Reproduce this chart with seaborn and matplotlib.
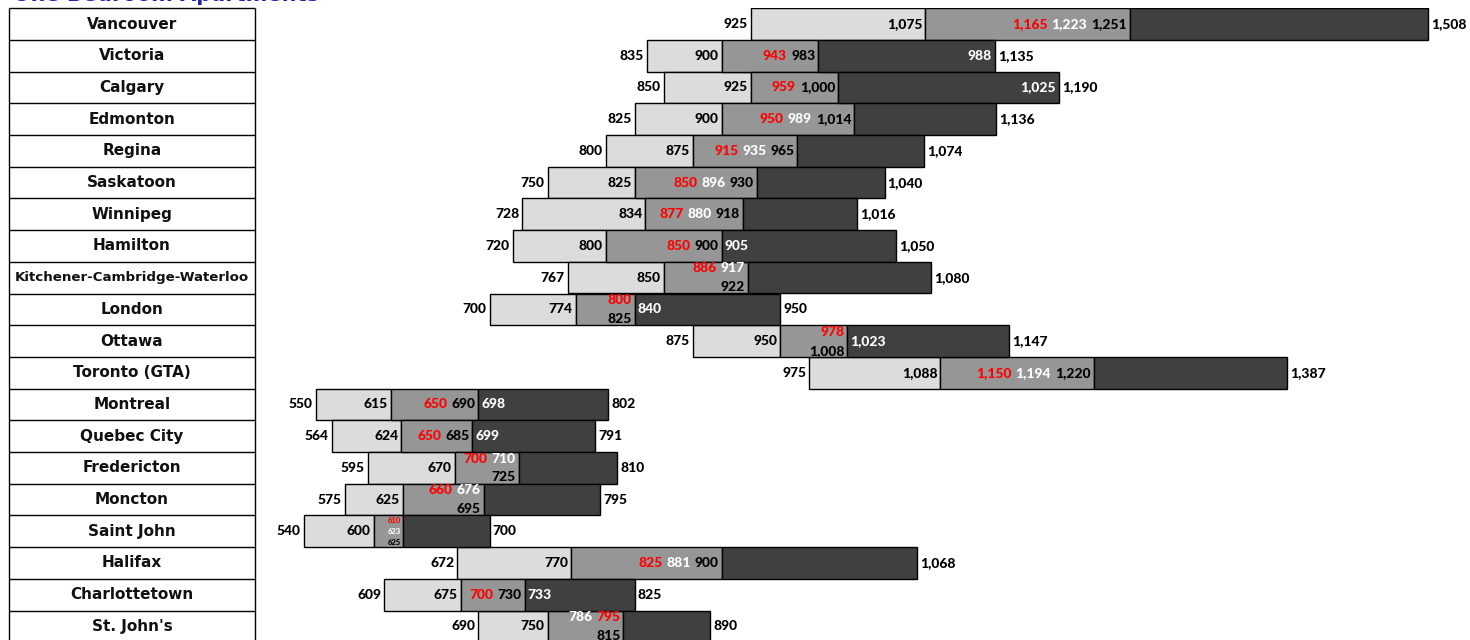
import numpy as np
import pandas as pd
import matplotlib
matplotlib.use("Agg")
import matplotlib.pyplot as plt
import seaborn as sns

# Monthly rent distribution for one bedroom apartments, by city
cities = ["Vancouver", "Victoria", "Calgary", "Edmonton", "Regina", "Saskatoon",
          "Winnipeg", "Hamilton", "Kitchener-Cambridge-Waterloo", "London", "Ottawa",
          "Toronto (GTA)", "Montreal", "Quebec City", "Fredericton", "Moncton",
          "Saint John", "Halifax", "Charlottetown", "St. John's"]
rent_min = [925, 835, 850, 825, 800, 750, 728, 720, 767, 700, 875, 975,
            550, 564, 595, 575, 540, 672, 609, 690]
rent_p25 = [1075, 900, 925, 900, 875, 825, 834, 800, 850, 774, 950, 1088,
            615, 624, 670, 625, 600, 770, 675, 750]
rent_median = [1165, 943, 959, 950, 915, 850, 877, 850, 886, 800, 978, 1150,
               650, 650, 700, 660, 610, 825, 700, 795]
rent_mean = [1223, 988, 1025, 989, 935, 896, 880, 905, 917, 840, 1023, 1194,
             698, 699, 710, 676, 623, 881, 733, 786]
rent_p75 = [1251, 983, 1000, 1014, 965, 930, 918, 900, 922, 825, 1008, 1220,
            690, 685, 725, 695, 625, 900, 730, 815]
rent_max = [1508, 1135, 1190, 1136, 1074, 1040, 1016, 1050, 1080, 950, 1147, 1387,
            802, 791, 810, 795, 700, 1068, 825, 890]

# how the median / mean / 75th percentile labels are arranged in each row
label_layout = {
    "Victoria": "mean_end", "Calgary": "mean_end",
    "Hamilton": "mean_after", "Montreal": "mean_after",
    "Quebec City": "mean_after", "Charlottetown": "mean_after",
    "Kitchener-Cambridge-Waterloo": "stack", "Fredericton": "stack",
    "Moncton": "stack", "St. John's": "stack",
    "London": "stack_mean_after", "Ottawa": "stack_mean_after",
    "Saint John": "tiny",
}

df = pd.DataFrame({"city": cities, "min": rent_min, "p25": rent_p25,
                   "median": rent_median, "mean": rent_mean,
                   "p75": rent_p75, "max": rent_max})

LIGHT, MID, DARK = "#dcdcdc", "#969696", "#404040"
NUM_FONT = "Lato"
NUM_WEIGHT = "black"
NUM_SIZE = 10

W, H = 1470, 640
fig = plt.figure(figsize=(W / 100, H / 100), dpi=100)
fig.patch.set_facecolor("white")

row_top_px, row_h_px = 8.2, 31.7
n = len(cities)
ax_top = 1 - row_top_px / H
ax_h = n * row_h_px / H
ax_bottom = ax_top - ax_h

# ---- bars -------------------------------------------------------------
x0_px = 257.5
ax = fig.add_axes([x0_px / W, ax_bottom, (W - x0_px) / W, ax_h])
bar_kw = dict(y="city", orient="h", width=1.0, errorbar=None,
              edgecolor="black", linewidth=1.0, ax=ax)
sns.barplot(data=df.assign(w=df["p25"] - df["min"]), x="w",
            left=df["min"].to_numpy(), color=LIGHT, **bar_kw)
sns.barplot(data=df.assign(w=df["p75"] - df["p25"]), x="w",
            left=df["p25"].to_numpy(), color=MID, **bar_kw)
sns.barplot(data=df.assign(w=df["max"] - df["p75"]), x="w",
            left=df["p75"].to_numpy(), color=DARK, **bar_kw)
ax.set_xlim(500, 500 + (W - x0_px) / 1.1612)
ax.set_ylim(n - 0.5, -0.5)
ax.axis("off")


def fmt(v):
    return f"{v:,}"


def label(x, y, s, color="black", ha="right", dx=-3, size=NUM_SIZE):
    return ax.annotate(s, xy=(x, y), xytext=(dx, 0), textcoords="offset pixels",
                       ha=ha, va="center", color=color, fontsize=size,
                       fontweight=NUM_WEIGHT, family=NUM_FONT)


def chain(x, y, items, size=NUM_SIZE, gap=4):
    """Right-aligned run of labels ending just inside x; items right to left."""
    prev = None
    for s, c in items:
        if prev is None:
            prev = label(x, y, s, c, size=size)
        else:
            prev = ax.annotate(s, xy=(0, 0.5), xycoords=prev, xytext=(-gap, 0),
                               textcoords="offset pixels", ha="right", va="center",
                               color=c, fontsize=size, fontweight=NUM_WEIGHT,
                               family=NUM_FONT)
    return prev


for i, r in df.iterrows():
    mode = label_layout.get(r["city"], "inline")
    label(r["min"], i, fmt(r["min"]))
    label(r["p25"], i, fmt(r["p25"]))
    label(r["max"], i, fmt(r["max"]), ha="left", dx=3)
    med = (fmt(r["median"]), "red")
    mean = (fmt(r["mean"]), "white")
    p75 = (fmt(r["p75"]), "black")
    if mode == "inline":
        chain(r["p75"], i, [p75, mean, med])
    elif mode == "mean_end":
        chain(r["p75"], i, [p75, med])
        label(r["max"], i, mean[0], "white")
    elif mode == "mean_after":
        chain(r["p75"], i, [p75, med])
        label(r["p75"], i, mean[0], "white", ha="left", dx=3)
    elif mode == "stack":
        top = sorted([(r["median"], med), (r["mean"], mean)],
                     key=lambda t: t[0], reverse=True)
        chain(r["p75"], i - 0.29, [t[1] for t in top])
        chain(r["p75"], i + 0.30, [p75])
    elif mode == "stack_mean_after":
        chain(r["p75"], i - 0.29, [med])
        chain(r["p75"], i + 0.30, [p75])
        label(r["p75"], i, mean[0], "white", ha="left", dx=3)
    elif mode == "tiny":
        label(r["p75"], i - 0.35, med[0], "red", dx=-2, size=5.5)
        label(r["p75"], i, mean[0], "white", dx=-2, size=5.5)
        label(r["p75"], i + 0.36, p75[0], "black", dx=-2, size=5.5)

# ---- city name column ---------------------------------------------------
tx0, tx1 = 9, 255
tax = fig.add_axes([tx0 / W, ax_bottom, (tx1 - tx0) / W, ax_h])
tax.set_xlim(0, 1)
tax.set_ylim(n - 0.5, -0.5)
tax.axis("off")
tax.hlines(np.arange(-0.5, n), 0, 1, color="black", lw=1.0, clip_on=False)
tax.vlines([0, 1], -0.5, n - 0.5, color="black", lw=1.0, clip_on=False)
for i, c in enumerate(cities):
    size = 9.6 if len(c) > 20 else 11
    tax.text(0.5, i, c, ha="center", va="center", fontsize=size,
             fontweight="bold", family="DejaVu Sans", color="#111111")

# ---- title ---------------------------------------------------------------
fig.text(13 / W, 1 - 1 / H, "One Bedroom Apartments", ha="left", va="baseline",
         fontsize=15, fontweight="bold", color="#2323a8", family="DejaVu Sans")

fig.savefig("out.png", dpi=100, facecolor="white")
